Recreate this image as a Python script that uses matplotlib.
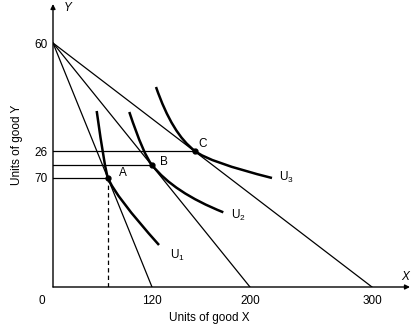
import matplotlib.pyplot as plt
from matplotlib.path import Path
from matplotlib.patches import PathPatch

plt.rcParams["font.family"] = ["Liberation Sans", "DejaVu Sans"]

# diagram units (schematic, not to scale)
y_intercept = 244
x_intercepts = [99, 197, 319]
x_tick_pos = [0, 99, 197, 319]
x_tick_labels = ["0", "120", "200", "300"]
y_tick_pos = [244, 136, 109]
y_tick_labels = ["60", "26", "70"]

# tangency points on the three budget lines
points = {"A": (55, 109), "B": (99, 122), "C": (142, 136)}
point_label_pos = {"A": (70, 114), "B": (111, 125), "C": (150, 143)}

# indifference curves: start, control, tangency point, control, end
u1_path = [(43.7, 176), (52, 116), (55, 109), (62.2, 90.8), (106, 42)]
u2_path = [(76.3, 175), (90.8, 131.5), (99, 122), (120.7, 94.5), (170.3, 74.7)]
u3_path = [(103, 200), (119.3, 152.8), (142, 136), (155.9, 124.8), (219, 109)]
curve_labels = [("1", (117, 32)), ("2", (178, 72)), ("3", (226, 110))]

fig = plt.figure(figsize=(4.11, 3.29), dpi=100)
ax = fig.add_axes([53 / 411, 42 / 329, 358 / 411, 287 / 329])
ax.set_xlim(0, 358)
ax.set_ylim(0, 287)
ax.axis("off")

# axes with arrowheads
arrow = dict(arrowstyle="-|>", color="black", lw=1.0, mutation_scale=7,
             shrinkA=0, shrinkB=0)
ax.annotate("", xy=(0, 283), xytext=(0, 0), arrowprops=arrow, annotation_clip=False)
ax.annotate("", xy=(357, 0), xytext=(0, 0), arrowprops=arrow, annotation_clip=False)
ax.text(15, 279, "Y", fontsize=8.5, style="italic", ha="center", va="center")
ax.text(352, 10, "X", fontsize=8.5, style="italic", ha="center", va="center")

# budget lines
for xi in x_intercepts:
    ax.plot([0, xi], [y_intercept, 0], color="black", lw=0.9)

# guide lines to the tangency points
for name in ["A", "B", "C"]:
    px, py = points[name]
    ax.plot([0, px], [py, py], color="black", lw=0.9)
ax.plot([points["A"][0]] * 2, [0, points["A"][1]], color="black", lw=0.9,
        linestyle=(0, (3.5, 2.5)))

# indifference curves
codes = [Path.MOVETO] + [Path.CURVE3] * 4
for verts in [u1_path, u2_path, u3_path]:
    ax.add_patch(PathPatch(Path(verts, codes), fill=False, lw=1.8,
                           edgecolor="black", capstyle="butt"))
for sub, (tx, ty) in curve_labels:
    ax.text(tx, ty, r"$\mathregular{U_%s}$" % sub, fontsize=8.5,
            ha="left", va="center")

for name, (px, py) in points.items():
    ax.plot(px, py, "o", color="black", ms=3.5)
    lx, ly = point_label_pos[name]
    ax.text(lx, ly, name, fontsize=8.5, ha="center", va="center")

for pos, lab in zip(x_tick_pos, x_tick_labels):
    ax.text(pos if pos else -11, -14, lab, fontsize=8.5, ha="center",
            va="center", clip_on=False)
for pos, lab in zip(y_tick_pos, y_tick_labels):
    ax.text(-12, pos - 1.5, lab, fontsize=8.5, ha="center", va="center",
            clip_on=False)

ax.text(156, -31, "Units of good X", fontsize=8.5, ha="center", va="center",
        clip_on=False)
ax.text(-36, 142, "Units of good Y", fontsize=8.5, rotation=90, ha="center",
        va="center", clip_on=False)

fig.savefig("out.png", dpi=100)
